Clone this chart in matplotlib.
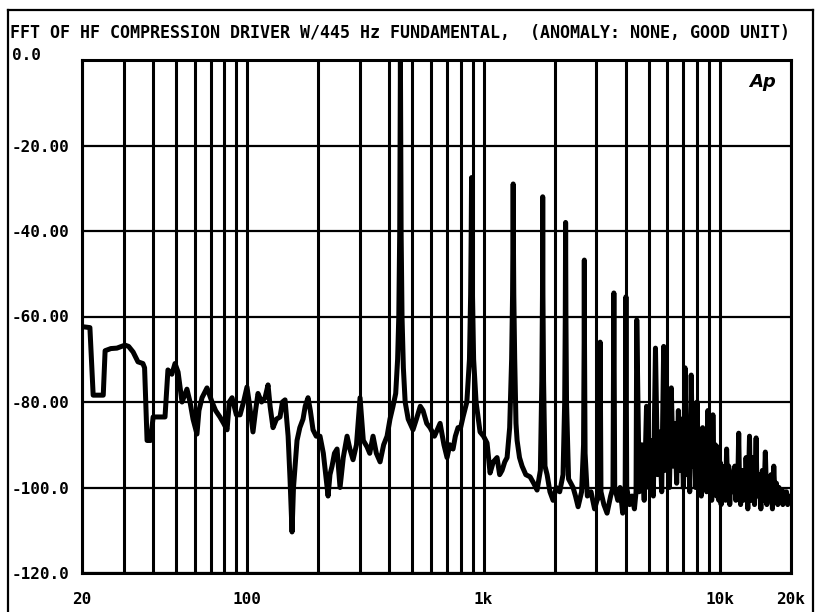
import matplotlib.pyplot as plt
from matplotlib.lines import Line2D
from matplotlib.ticker import NullFormatter

plt.rcParams.update({
    "font.family": "DejaVu Sans Mono",
    "font.weight": "bold",
})

# ---- trace (Hz, dBr) ----
# low band: 20 Hz .. 400 Hz
low_hz = [20, 20.2, 21.6, 22.3, 24.6, 25.05, 26.5, 28.1, 30.4, 31.5, 32.9, 34.5,
          36.2, 36.8, 37.7, 39.0, 40.0, 44.9, 46.2, 48.0, 49.5, 51.0, 53.0, 55.6,
          57.3, 59.0, 61.3, 62.5, 64.4, 67.6, 71.0, 73.5, 76.7, 79.5, 82.2, 84.0,
          86.3, 90.0, 93.3, 96.5, 99.8, 102.5, 105.8, 108.5, 111.1, 115, 119.0,
          122.5, 125, 128.6, 133, 137.7, 141, 144.6, 149, 151.8, 154.8, 157, 162.5,
          167, 172.3, 176, 180.9, 185, 189.9, 196, 203.3, 210, 219.9, 224, 228.6,
          234, 240, 244, 247.1, 255, 264.6, 272, 280.5, 290, 300.3, 310, 321.5, 330,
          340.8, 352, 365, 378, 390.7, 402]
low_db = [-62.4, -62.4, -62.6, -78.4, -78.4, -68, -67.5, -67.4, -66.7, -67, -68.3, -70.6,
          -71, -72, -89, -89, -83.5, -83.5, -72.5, -73.5, -71, -73, -80, -77,
          -80, -84, -87.5, -82, -79, -76.7, -80, -82, -83.5, -85, -86.5, -80,
          -79, -83, -83, -80, -76.5, -81, -87, -82, -78, -80, -79,
          -76, -81, -86, -84, -83.5, -80, -79.5, -88, -98, -110.4, -100, -89,
          -86, -84, -81, -79, -82, -86.5, -88, -88, -92, -102, -97, -95,
          -92, -91, -96, -100, -93, -88, -91, -93.5, -90, -79, -89, -90.5, -92,
          -88, -92, -94, -90, -88, -84]

# fundamental and first harmonics: 414 Hz .. 2.9 kHz
mid_hz = [414, 425, 433, 438, 442, 445, 448, 452, 458, 466, 480, 503, 520, 540, 554.7,
          575, 594, 620, 655, 680, 701, 720, 743, 760, 780, 800, 819, 850, 872, 882,
          887, 890, 893, 898, 908, 930, 966.7, 1000, 1035, 1066, 1100, 1141, 1170,
          1198, 1230, 1258, 1290, 1315, 1327, 1332, 1335, 1338, 1343, 1355, 1372,
          1387, 1420, 1456, 1510, 1574, 1630, 1685, 1740, 1765, 1776, 1780, 1784,
          1795, 1820, 1858, 1910, 1969, 2030, 2100, 2170, 2205, 2218, 2225, 2232,
          2245, 2290, 2393, 2450, 2513, 2600, 2650, 2666, 2670, 2674, 2690, 2750,
          2850, 2950]
mid_db = [-81, -78, -70, -60, -40, 0, -40, -60, -72, -80, -84, -86.5, -84, -81, -82,
          -85, -86, -88, -85, -90, -93, -90, -91, -88, -86, -86, -83.5, -80, -70, -55,
          -40, -27.5, -40, -55, -70, -80, -87, -88, -89.6, -96.6, -94, -93, -97,
          -96, -94, -93, -86, -70, -55, -42, -29, -42, -55, -70, -85,
          -89, -93, -95, -97, -97.5, -99, -100.6, -96, -75, -55, -32, -55,
          -75, -95, -97, -101, -103, -100, -101, -97, -80, -60, -38, -60,
          -80, -98, -100, -102, -104.5, -101, -90, -65, -46.8, -65, -92, -102,
          -101, -105]

# upper harmonics, inter-harmonic clutter and noise floor: 3 kHz .. 20 kHz
high_hz = [3022, 3090, 3115, 3140, 3230, 3332, 3450, 3530, 3560, 3590, 3700, 3783,
           3880, 3975, 4005, 4035, 4150, 4250, 4350, 4420, 4450,
           4560, 4672, 4785, 4895, 5005, 5117, 5230, 5340, 5450, 5562, 5675, 5785,
           5895, 6007, 6120, 6230, 6340, 6452, 6565, 6675, 6785, 6897, 7010, 7120,
           7230, 7342, 7455, 7565, 7675, 7787, 7900, 8010, 8120, 8232, 8345, 8455,
           8565, 8677, 8790, 8900, 9010, 9122, 9235, 9345, 9455, 9567, 9680, 9790,
           9900, 10012, 10125, 10235,
           10350, 10460, 10570, 10680, 10790, 10900, 11010, 11125, 11240, 11350,
           11460, 11570, 11680, 11790, 11900, 12015, 12130, 12240, 12350, 12460,
           12570, 12680, 12790, 12905, 13020, 13130, 13240, 13350, 13460, 13570,
           13680, 13795, 13910, 14020, 14130, 14240, 14350, 14460, 14570, 14685,
           14910, 15130, 15350, 15575, 15800, 16020, 16240, 16465, 16690, 16910,
           17130, 17355, 17580, 17800, 18020, 18245, 18470, 18690, 18910, 19135,
           19360, 19580, 19800, 20000]
high_db = [-103, -102, -66, -101, -104, -106, -102, -100, -54.5, -100, -103, -100,
           -106, -101, -55.4, -100, -104, -102, -105, -101, -60.8,
           -101, -90, -103, -81, -100, -89, -102, -67.4, -97, -87, -101, -67,
           -96, -86, -100, -76.7, -95, -85, -99, -82, -96, -84, -100, -72,
           -97, -85, -101, -73.7, -95, -86, -100, -80, -97, -88, -102, -86,
           -96, -87, -101, -82, -98, -89, -103, -83, -97, -90, -102, -90.5,
           -103, -94, -104, -95,
           -101, -96, -103, -91, -100, -95, -104, -97, -99, -101,
           -96, -95, -103, -97, -100, -87.3, -101, -104, -97, -96,
           -103, -98, -102, -93, -99, -105, -97, -88, -101, -103,
           -98, -93, -102, -104, -96, -88.4, -100, -102, -99, -97,
           -105, -96, -103, -91.7, -104, -98, -102, -97, -105, -95,
           -103, -99, -104, -100, -103, -100.6, -104, -101, -103, -101,
           -104, -102, -103, -102.5]

freq_hz = low_hz + mid_hz + high_hz
level_db = low_db + mid_db + high_db

y_ticks = [0, -20, -40, -60, -80, -100, -120]
y_labels = ["0.0", "-20.00", "-40.00", "-60.00", "-80.00", "-100.0", "-120.0"]
x_ticks = [20, 100, 1000, 10000, 20000]
x_labels = ["20", "100", "1k", "10k", "20k"]
grid_hz = [d * m for d in (10, 100, 1000, 10000) for m in range(1, 10)
           if 20 <= d * m <= 20000]

title = "FFT OF HF COMPRESSION DRIVER W/445 Hz FUNDAMENTAL,  (ANOMALY: NONE, GOOD UNIT)"

fig = plt.figure(figsize=(8.17, 6.12), dpi=100)
W, H = 817, 612
ax = fig.add_axes([82 / W, 39 / H, 709 / W, 513 / H])

ax.plot(freq_hz, level_db, color="black", lw=3.6, solid_joinstyle="round", zorder=3)

ax.set_xscale("log")
ax.set_xlim(20, 20000)
ax.set_ylim(-120, 0)

ax.set_xticks(x_ticks, labels=x_labels)
ax.set_xticks(grid_hz, minor=True)
ax.xaxis.set_minor_formatter(NullFormatter())
ax.set_yticks(y_ticks, labels=y_labels)

ax.tick_params(which="both", length=0, labelsize=11.5)
ax.tick_params(axis="x", pad=13.5)
ax.tick_params(axis="y", pad=50.4)
for lbl in ax.get_yticklabels():
    lbl.set_horizontalalignment("left")
ax.get_yticklabels()[0].set_verticalalignment("baseline")

ax.xaxis.grid(True, which="both", color="black", lw=2.2)
ax.yaxis.grid(True, color="black", lw=1.6)
ax.set_axisbelow(True)
for sp in ax.spines.values():
    sp.set_linewidth(2.2)

ax.text(0.96, 0.957, "Ap", transform=ax.transAxes, ha="center", va="center",
        fontsize=13, fontstyle="italic", family="DejaVu Sans", weight="bold")

fig.text(10 / W, 1 - 33 / H, title, ha="left", va="center", fontsize=12, weight="bold")

# outer frame of the printout
for xs, ys in [([8 / W, 8 / W], [0, 1 - 10 / H]),
               ([813 / W, 813 / W], [0, 1 - 10 / H]),
               ([8 / W, 813 / W], [1 - 10 / H, 1 - 10 / H])]:
    fig.add_artist(Line2D(xs, ys, transform=fig.transFigure, color="black", lw=1.6))

fig.savefig("out.png", dpi=100)
